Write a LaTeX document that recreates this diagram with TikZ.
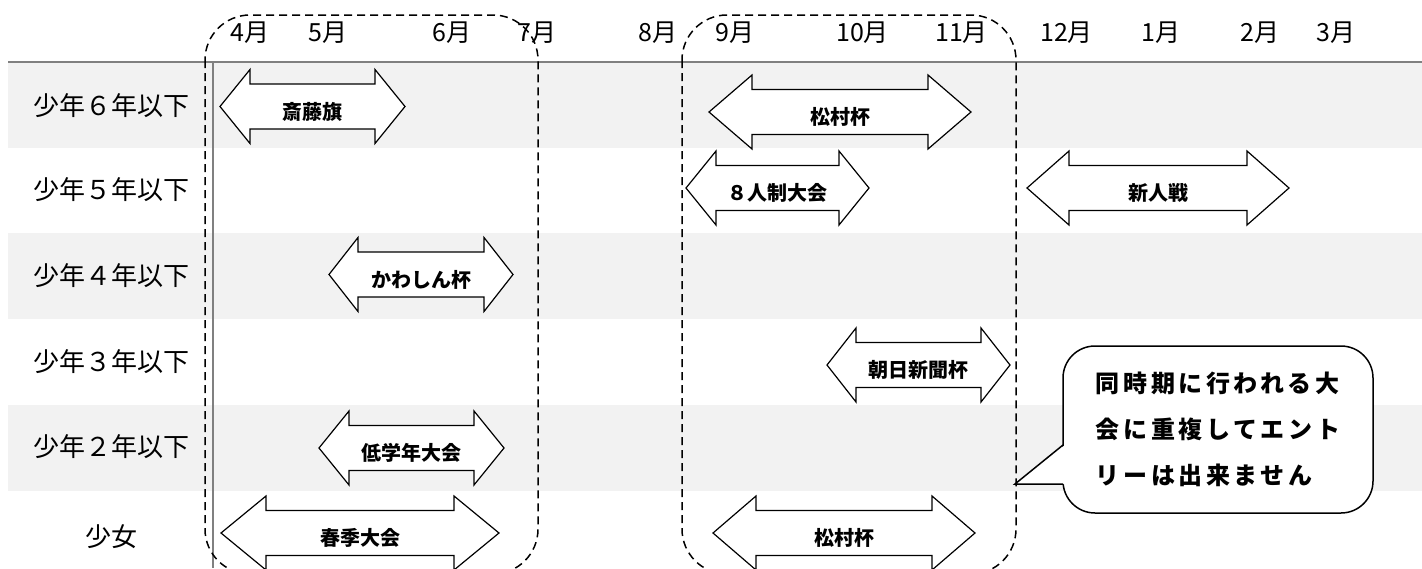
\documentclass[tikz,border=0pt]{standalone}
\usepackage{fontspec}
\setmainfont{Noto Sans CJK JP}
\usetikzlibrary{positioning}

\definecolor{bandgray}{HTML}{F2F2F2}
\definecolor{rulegray}{HTML}{808080}

\tikzset{
  rowlabel/.style={font=\fontsize{26}{26}\selectfont},
  monthlabel/.style={anchor=west, inner sep=0pt, font=\fontsize{25}{25}\selectfont},
  evshape/.style={draw=black, fill=white, line width=1.2pt, line join=miter},
  evlabel/.style={inner sep=0pt, font=\bfseries\fontsize{20}{20}\selectfont},
  periodbox/.style={draw=black, line width=1.5pt, dash pattern=on 8pt off 5pt, rounded corners=45pt},
  balloon/.style={draw=black, fill=white, line width=1.5pt, rounded corners=32pt,
    minimum width=310pt, minimum height=167pt, inner sep=0pt, align=left,
    font=\bfseries\fontsize{24}{46}\selectfont\addfontfeature{LetterSpace=15}}
}

% name, left tip, right tip, centre y, head length, label
\newcommand{\evarrow}[6]{%
  \draw[evshape] (#2,#4) -- (#2+#5,#4-37) -- (#2+#5,#4-22.5) -- (#3-#5,#4-22.5)
    -- (#3-#5,#4-37) -- (#3,#4) -- (#3-#5,#4+37) -- (#3-#5,#4+22.5)
    -- (#2+#5,#4+22.5) -- (#2+#5,#4+37) -- cycle;
  \node[evlabel] (#1) at ({(#2+#3)/2},#4+5) {#6};
}

\begin{document}
\begin{tikzpicture}[x=1pt,y=-1pt]
  \useasboundingbox (0,0) rectangle (1422,568);
  \clip (0,0) rectangle (1422,568);
  \foreach \ytop in {62,233,405}
    \fill[bandgray] (8,\ytop) rectangle (1422,\ytop+86);
  \draw[rulegray, line width=1.5pt] (8,62) -- (1422,62);
  \draw[rulegray, line width=1.2pt] (213,62) -- (213,568);

  \foreach \lab/\y [count=\i] in {少年６年以下/106, 少年５年以下/190, 少年４年以下/276,
      少年３年以下/362, 少年２年以下/447, 少女/537}
    \node[rowlabel] (row\i) at (111,\y) {\lab};

  \foreach \m/\x [count=\i] in {4/230, 5/308, 6/432, 7/517, 8/638, 9/715,
      10/836, 11/935, 12/1040, 1/1141, 2/1240, 3/1316}
    \node[monthlabel] (month\i) at (\x,33) {\m 月};

  \evarrow{saito}{220}{405}{106.5}{30}{斎藤旗}
  \evarrow{matsumura}{709}{971}{112}{43}{松村杯}
  \evarrow{eightman}{686}{869}{188}{30}{８人制大会}
  \evarrow{shinjin}{1027}{1289}{188}{42}{新人戦}
  \evarrow{kawashin}{329}{513}{274.5}{29}{かわしん杯}
  \evarrow{asahi}{827}{1010}{365}{29}{朝日新聞杯}
  \evarrow{teigaku}{319}{504}{448}{30}{低学年大会}
  \evarrow{shunki}{221}{499}{533}{45}{春季大会}
  \evarrow{matsumuragirl}{713}{975}{533}{43}{松村杯}

  \draw[periodbox] (205,15) rectangle (538,574);
  \draw[periodbox] (682,15) rectangle (1016,574);

  \node[balloon] (note) at (1218,429.5) {同時期に行われる大\\会に重複してエント\\リーは出来ません};
  \fill[white] (1065,445) -- (1015,484) -- (1065,484) -- cycle;
  \draw[line width=1.5pt, line join=miter] (1063,445) -- (1015,484) -- (1063,484);
\end{tikzpicture}
\end{document}
